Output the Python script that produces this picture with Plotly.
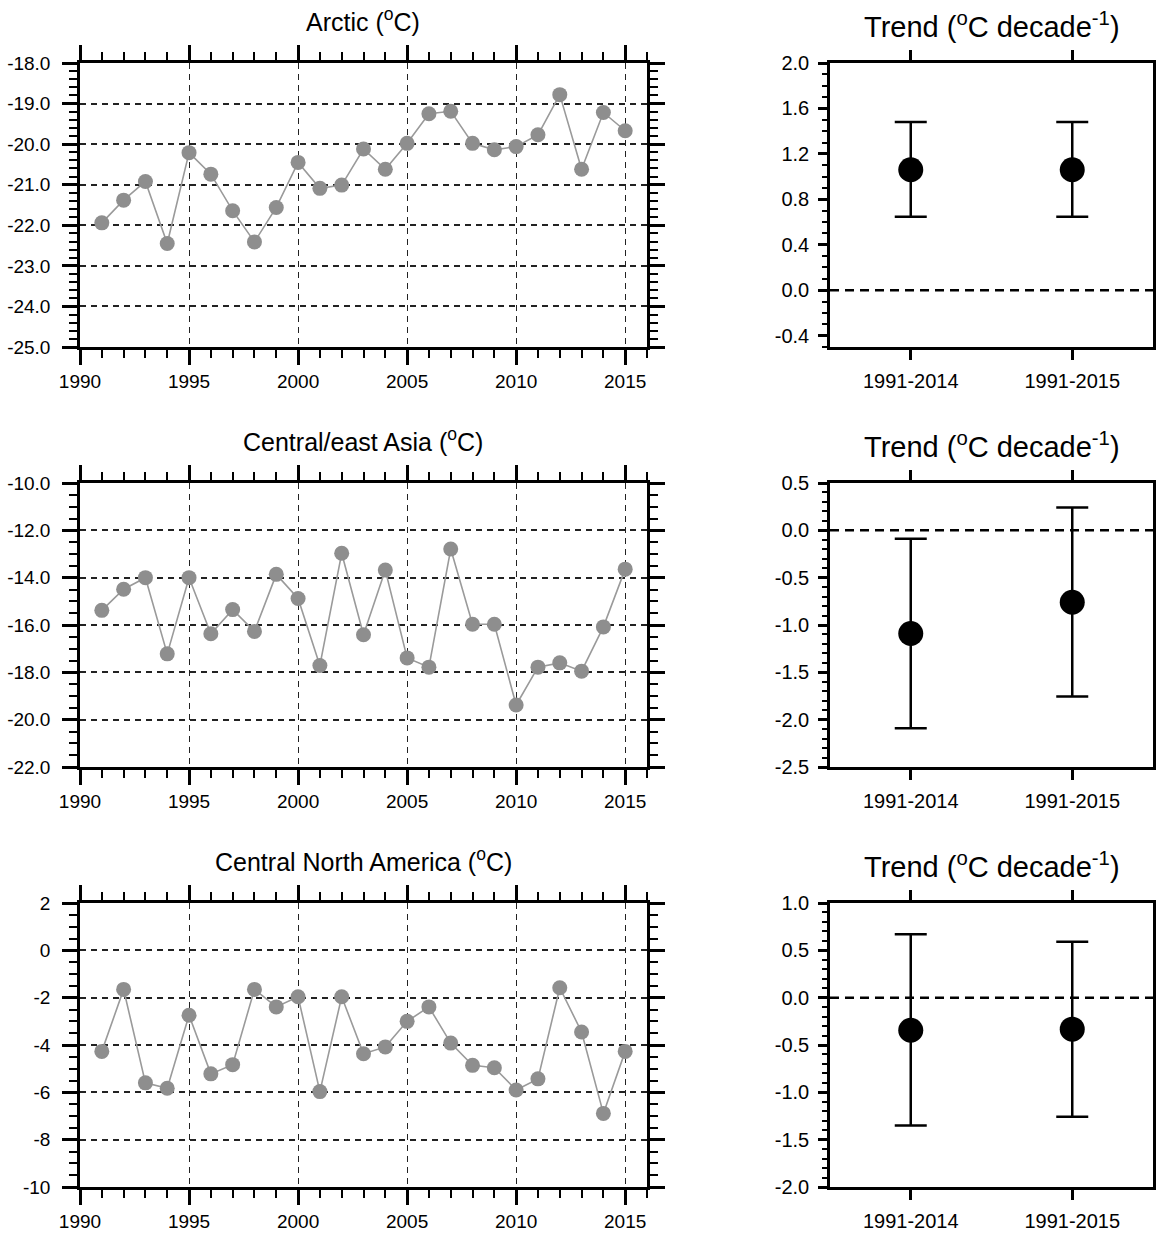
import plotly.graph_objects as go
from plotly.subplots import make_subplots

# ---------------- data ----------------
years = list(range(1991, 2016))

arctic = [-21.94, -21.38, -20.92, -22.45, -20.21, -20.74, -21.64, -22.41, -21.56, -20.45,
          -21.09, -21.01, -20.12, -20.62, -19.98, -19.25, -19.19, -19.98, -20.14, -20.06,
          -19.77, -18.78, -20.62, -19.22, -19.67]

ce_asia = [-15.38, -14.49, -14.00, -17.22, -14.00, -16.37, -15.35, -16.27, -13.86, -14.88,
           -17.71, -12.97, -16.41, -13.68, -17.39, -17.78, -12.79, -15.97, -15.97, -19.38,
           -17.78, -17.60, -17.95, -16.08, -13.64]

c_namerica = [-4.27, -1.65, -5.60, -5.83, -2.74, -5.22, -4.83, -1.65, -2.39, -1.96,
              -5.97, -1.96, -4.37, -4.08, -3.00, -2.39, -3.92, -4.86, -4.96, -5.90,
              -5.43, -1.58, -3.45, -6.89, -4.27]

periods = ["1991-2014", "1991-2015"]
period_pos = [1, 2]

trend_arctic = [1.06, 1.06]
trend_arctic_hi = [1.48, 1.48]
trend_arctic_lo = [0.646, 0.646]

trend_asia = [-1.09, -0.76]
trend_asia_hi = [-0.089, 0.24]
trend_asia_lo = [-2.09, -1.755]

trend_nam = [-0.344, -0.333]
trend_nam_hi = [0.67, 0.59]
trend_nam_lo = [-1.35, -1.259]

titles_left = ["Arctic (<sup>o</sup>C)", "Central/east Asia (<sup>o</sup>C)",
               "Central North America (<sup>o</sup>C)"]
title_right = "Trend (<sup>o</sup>C decade<sup>-1</sup>)"

year_ticks = [1990, 1995, 2000, 2005, 2010, 2015]
year_ticktext = ["1990", "1995", "2000", "2005", "2010", "2015"]

y1_ticks = [-25, -24, -23, -22, -21, -20, -19, -18]
y1_text = ["-25.0", "-24.0", "-23.0", "-22.0", "-21.0", "-20.0", "-19.0", "-18.0"]
y2_ticks = [-22, -20, -18, -16, -14, -12, -10]
y2_text = ["-22.0", "-20.0", "-18.0", "-16.0", "-14.0", "-12.0", "-10.0"]
y3_ticks = [-10, -8, -6, -4, -2, 0, 2]
y3_text = ["-10", "-8", "-6", "-4", "-2", "0", "2"]

r1_ticks = [-0.4, 0.0, 0.4, 0.8, 1.2, 1.6, 2.0]
r1_text = ["-0.4", "0.0", "0.4", "0.8", "1.2", "1.6", "2.0"]
r2_ticks = [-2.5, -2.0, -1.5, -1.0, -0.5, 0.0, 0.5]
r2_text = ["-2.5", "-2.0", "-1.5", "-1.0", "-0.5", "0.0", "0.5"]
r3_ticks = [-2.0, -1.5, -1.0, -0.5, 0.0, 0.5, 1.0]
r3_text = ["-2.0", "-1.5", "-1.0", "-0.5", "0.0", "0.5", "1.0"]

# ---------------- figure ----------------
W, H = 1156, 1235
FONT = "Liberation Sans, Arial, Helvetica, sans-serif"

fig = make_subplots(rows=3, cols=2)

left_dom = [80 / W, 647 / W]
right_dom = [830 / W, 1153 / W]
row_tops = [63, 483, 903]
row_h = 284


def ydom(top):
    return [1 - (top + row_h) / H, 1 - top / H]


series = [arctic, ce_asia, c_namerica]
yl = [(y1_ticks, y1_text, [-25, -18], 0.2),
      (y2_ticks, y2_text, [-22, -10], 0.5),
      (y3_ticks, y3_text, [-10, 2], 0.5)]
trends = [(trend_arctic, trend_arctic_hi, trend_arctic_lo),
          (trend_asia, trend_asia_hi, trend_asia_lo),
          (trend_nam, trend_nam_hi, trend_nam_lo)]
yr = [(r1_ticks, r1_text, [-0.5, 2.0]),
      (r2_ticks, r2_text, [-2.5, 0.5]),
      (r3_ticks, r3_text, [-2.0, 1.0])]

for i in range(3):
    r = i + 1
    # left time series
    fig.add_trace(go.Scatter(
        x=years, y=series[i], mode="lines+markers",
        line=dict(color="#9a9a9a", width=1.6),
        marker=dict(color="#8e8e8e", size=15),
        showlegend=False, cliponaxis=False), row=r, col=1)
    # right trend
    c, hi, lo = trends[i]
    fig.add_trace(go.Scatter(
        x=period_pos, y=c, mode="markers",
        marker=dict(color="black", size=25),
        error_y=dict(type="data", symmetric=False,
                     array=[h - v for h, v in zip(hi, c)],
                     arrayminus=[v - l for v, l in zip(c, lo)],
                     color="black", thickness=2.5, width=16),
        showlegend=False), row=r, col=2)

    tks, txt, rng, mn = yl[i]
    fig.update_xaxes(
        domain=left_dom, range=[1990, 2016], automargin=False,
        tickmode="array", tickvals=year_ticks, ticktext=year_ticktext,
        ticks="outside", ticklen=15, tickwidth=2.5, tickcolor="black",
        showline=True, linecolor="black", linewidth=2.5, mirror="ticks",
        showgrid=True, gridcolor="#222222", gridwidth=1, griddash="6px,5px",
        zeroline=False, ticklabelstandoff=0,
        minor=dict(ticks="outside", ticklen=8, tickwidth=1.5, tickcolor="black",
                   tickmode="linear", tick0=1990, dtick=1, showgrid=False),
        tickfont=dict(family=FONT, size=19, color="black"),
        row=r, col=1)
    fig.update_yaxes(
        domain=ydom(row_tops[i]), range=rng, automargin=False,
        tickmode="array", tickvals=tks, ticktext=txt,
        ticks="outside", ticklen=15, tickwidth=2.5, tickcolor="black",
        showline=True, linecolor="black", linewidth=2.5, mirror="ticks",
        showgrid=True, gridcolor="#222222", gridwidth=1.5, griddash="6px,5px",
        zeroline=False, ticklabelstandoff=8,
        minor=dict(ticks="outside", ticklen=8, tickwidth=1.5, tickcolor="black",
                   tickmode="linear", tick0=rng[0], dtick=mn, showgrid=False),
        tickfont=dict(family=FONT, size=19, color="black"),
        row=r, col=1)

    rt, rtxt, rrng = yr[i]
    fig.update_xaxes(
        domain=right_dom, range=[0.5, 2.5], automargin=False,
        tickmode="array", tickvals=period_pos, ticktext=periods,
        ticks="outside", ticklen=10, tickwidth=2.5, tickcolor="black",
        showline=True, linecolor="black", linewidth=2.5, mirror="ticks",
        showgrid=False, zeroline=False, ticklabelstandoff=4,
        tickfont=dict(family=FONT, size=20, color="black"),
        row=r, col=2)
    fig.update_yaxes(
        domain=ydom(row_tops[i]), range=rrng, automargin=False,
        tickmode="array", tickvals=rt, ticktext=rtxt,
        ticks="outside", ticklen=9, tickwidth=2.5, tickcolor="black",
        showline=True, linecolor="black", linewidth=2.5, mirror="ticks",
        showgrid=False, zeroline=False, ticklabelstandoff=5,
        minor=dict(ticks="outside", ticklen=5, tickwidth=1.5, tickcolor="black",
                   tickmode="linear", tick0=rrng[0], dtick=0.1, showgrid=False),
        tickfont=dict(family=FONT, size=20, color="black"),
        row=r, col=2)

    # zero reference line on trend panel
    xref = "x%d domain" % (2 * i + 2)
    yref = "y%d" % (2 * i + 2)
    fig.add_shape(type="line", xref=xref, yref=yref, x0=0, x1=1, y0=0, y1=0,
                  line=dict(color="black", width=2.5, dash="9px,6px"))

    # titles
    fig.add_annotation(text=titles_left[i], xref="paper", yref="paper",
                       x=(left_dom[0] + left_dom[1]) / 2,
                       y=1 - (row_tops[i] - 43) / H, xanchor="center", yanchor="middle",
                       showarrow=False, font=dict(family=FONT, size=25, color="black"))
    fig.add_annotation(text=title_right, xref="paper", yref="paper",
                       x=(right_dom[0] + right_dom[1]) / 2,
                       y=1 - (row_tops[i] - 38) / H, xanchor="center", yanchor="middle",
                       showarrow=False, font=dict(family=FONT, size=29, color="black"))

fig.update_layout(
    template="none",
    width=W, height=H, autosize=False,
    margin=dict(l=0, r=0, t=0, b=0, pad=0, autoexpand=False),
    paper_bgcolor="white", plot_bgcolor="white",
    font=dict(family=FONT, color="black"),
)

fig.write_html("out.html",
               config={"displayModeBar": False},
               post_script="document.body.style.margin='0';"
                           "document.body.style.overflow='hidden';")
